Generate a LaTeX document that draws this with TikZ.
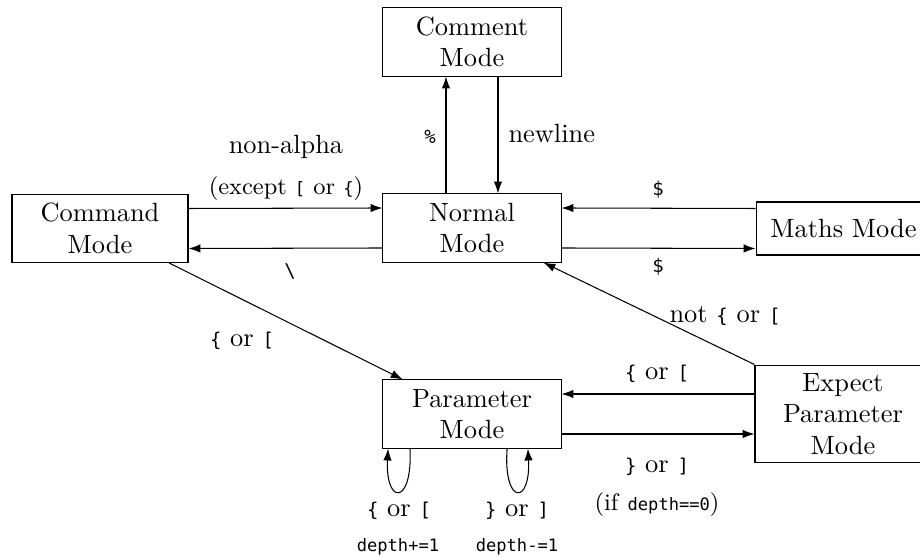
\documentclass[tikz,border=0pt]{standalone}
\usepackage{fontspec}
\setmonofont[Scale=0.72]{DejaVu Sans Mono}
\usetikzlibrary{arrows.meta}
\begin{document}
\begin{tikzpicture}[x=0.379pt,y=-0.379pt,
  box/.style={draw, align=center, inner sep=2pt, minimum width=67.5pt, minimum height=25.8pt},
  arr/.style={-{Latex[length=4.5pt,width=3.2pt]}},
  lbl/.style={anchor=base, inner sep=0pt},
  sm/.style={lbl, font=\small},
  ctr/.style={anchor=center, inner sep=0pt}]
\useasboundingbox (0,0) rectangle (920,557);
\clip (0,0) rectangle (920,557);
% states
\node[box] (comment) at (472,42) {Comment\\Mode};
\node[box] (normal) at (472,228) {Normal\\Mode};
\node[box, minimum width=66.7pt] (command) at (100,228.5) {Command\\Mode};
\node[box, minimum width=66.3pt, minimum height=20.1pt] (maths) at (843.5,228.5) {Maths Mode};
\node[box, minimum width=66.7pt, minimum height=37.1pt] (expect) at (843,414) {Expect\\Parameter\\Mode};
\node[box] (param) at (472,414) {Parameter\\Mode};
% connectors
\draw[arr] ([yshift=7.58pt]command.east) -- ([yshift=7.58pt]normal.west);
\draw[arr] ([yshift=-7.58pt]normal.west) -- ([yshift=-7.58pt]command.east);
\draw[arr] ([xshift=-9.85pt]normal.north) -- ([xshift=-9.85pt]comment.south);
\draw[arr] ([xshift=9.85pt]comment.south) -- ([xshift=9.85pt]normal.north);
\draw[arr] ([yshift=7.58pt]maths.west) -- ([yshift=7.58pt]normal.east);
\draw[arr] ([yshift=-7.58pt]normal.east) -- ([yshift=-7.58pt]maths.west);
\draw[arr] ([yshift=7.58pt]expect.west) -- ([yshift=7.58pt]param.east);
\draw[arr] ([yshift=-7.58pt]param.east) -- ([yshift=-7.58pt]expect.west);
\draw[arr] (expect.north west) -- (normal);
\draw[arr] (command) -- (param);
\draw[arr] ([xshift=-23.5pt]param.south) .. controls +(1.1pt,-21.6pt) and +(-1.1pt,-21.6pt) .. ([xshift=-31.8pt]param.south);
\draw[arr] ([xshift=13.3pt]param.south) .. controls +(-1.5pt,-21.6pt) and +(1.1pt,-21.6pt) .. ([xshift=21.2pt]param.south);
% labels
\node[lbl] (lnonalpha) at (286,154) {non-alpha};
\node[sm] (lexcept) at (286,195) {(except \texttt{[} or \texttt{\{})};
\node[ctr] (lbs) at (290,271) {\texttt{\textbackslash}};
\node[ctr] (lpct) at (430,137) {\texttt{\%}};
\node[lbl, anchor=base west] (lnewline) at (508,143) {newline};
\node[ctr] (ldollar1) at (658,190) {\texttt{\$}};
\node[ctr] (ldollar2) at (658,267) {\texttt{\$}};
\node[lbl] (lnot) at (725,323) {not \texttt{\{} or \texttt{[}};
\node[lbl] (lopen) at (657,380) {\texttt{\{} or \texttt{[}};
\node[lbl] (lclose) at (657,473) {\texttt{\}} or \texttt{]}};
\node[sm] (lif) at (657,511) {(if \texttt{depth==0})};
\node[lbl] (lcmd) at (242,347) {\texttt{\{} or \texttt{[}};
\node[lbl] (lloop1) at (399,517) {\texttt{\{} or \texttt{[}};
\node[sm] (ldepth1) at (398,552) {\texttt{depth+=1}};
\node[lbl] (lloop2) at (517,517) {\texttt{\}} or \texttt{]}};
\node[sm] (ldepth2) at (517,552) {\texttt{depth-=1}};
\end{tikzpicture}
\end{document}
